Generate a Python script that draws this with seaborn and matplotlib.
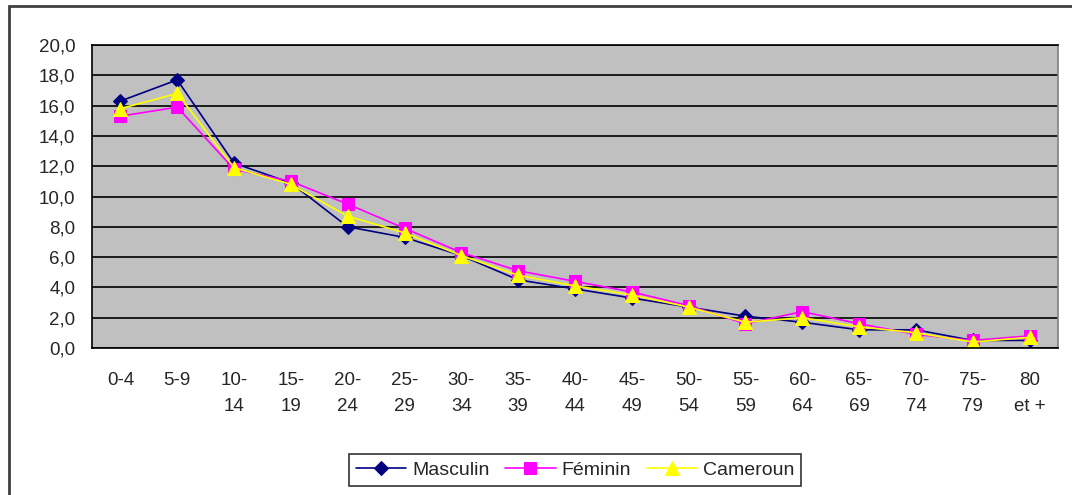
import numpy as np
import pandas as pd
import matplotlib
matplotlib.use('Agg')
import matplotlib.pyplot as plt
import seaborn as sns
from matplotlib.patches import Rectangle
from matplotlib.ticker import FuncFormatter, FixedLocator

# age groups and population shares (%)
ages = ['0-4', '5-9', '10-\n14', '15-\n19', '20-\n24', '25-\n29', '30-\n34', '35-\n39',
        '40-\n44', '45-\n49', '50-\n54', '55-\n59', '60-\n64', '65-\n69', '70-\n74',
        '75-\n79', '80\net +']
masculin = [16.3, 17.7, 12.2, 10.9, 8.0, 7.3, 6.1, 4.5, 3.9, 3.3, 2.7, 2.1, 1.7, 1.2, 1.2, 0.5, 0.5]
feminin = [15.3, 15.9, 11.8, 11.0, 9.5, 7.9, 6.3, 5.1, 4.4, 3.7, 2.8, 1.6, 2.4, 1.6, 0.9, 0.5, 0.8]
cameroun = [15.8, 16.8, 11.9, 10.8, 8.7, 7.6, 6.1, 4.8, 4.1, 3.5, 2.7, 1.7, 2.0, 1.4, 1.0, 0.4, 0.7]

df = pd.DataFrame({'age': ages, 'Masculin': masculin, 'Féminin': feminin, 'Cameroun': cameroun})
long_df = df.melt(id_vars='age', var_name='serie', value_name='pct')

sns.set_style('white')
plt.rcParams['font.family'] = ['Liberation Sans', 'DejaVu Sans']

fig = plt.figure(figsize=(10.72, 4.95), dpi=100)
ax = fig.add_axes([92 / 1072, 147 / 495, 966 / 1072, 303 / 495])
ax.set_facecolor('#c0c0c0')

styles = {
    'Masculin': dict(color='#000080', marker='D', markersize=7),
    'Féminin': dict(color='#ff00ff', marker='s', markersize=8),
    'Cameroun': dict(color='#ffff00', marker='^', markersize=10),
}
for name in ['Masculin', 'Féminin', 'Cameroun']:
    sub = long_df[long_df['serie'] == name]
    st = styles[name]
    sns.lineplot(data=sub, x='age', y='pct', ax=ax, color=st['color'], marker=st['marker'],
                 markersize=st['markersize'], markeredgecolor=st['color'], linewidth=1.2,
                 label=name, sort=False)

ax.set_xlim(-0.5, len(ages) - 0.5)
ax.set_ylim(0, 20)
ax.set_yticks(np.arange(0, 20.1, 2))
ax.yaxis.set_major_formatter(FuncFormatter(lambda v, p: f'{v:.1f}'.replace('.', ',')))
ax.yaxis.grid(True, color='black', linewidth=1.2)
ax.xaxis.grid(False)
ax.set_axisbelow(True)

ax.set_xticks(range(len(ages)))
ax.set_xticklabels(ages, fontsize=13.5, linespacing=1.75)
ax.xaxis.set_minor_locator(FixedLocator(np.arange(-0.5, len(ages), 1)))
ax.tick_params(axis='x', which='major', length=0, pad=17)
ax.tick_params(axis='x', which='minor', length=4, width=1, color='black', direction='out')
ax.tick_params(axis='y', length=4, width=1, color='black', direction='out', labelsize=13.5, pad=8)
for lab in ax.get_xticklabels():
    lab.set_verticalalignment('top')

ax.set_xlabel('')
ax.set_ylabel('')
for side in ['left', 'bottom', 'top']:
    ax.spines[side].set_color('black')
    ax.spines[side].set_linewidth(1.2)
ax.spines['right'].set_color('#808080')
ax.spines['right'].set_linewidth(1.2)

ax.get_legend().remove()
handles, labels = ax.get_legend_handles_labels()
leg = fig.legend(handles, labels, loc='center', bbox_to_anchor=(575 / 1072, 25 / 495), ncol=3,
                 fontsize=14, frameon=True, fancybox=False, edgecolor='black',
                 handlelength=2.6, handletextpad=0.3, columnspacing=0.8, borderpad=0.35,
                 borderaxespad=0)
leg.get_frame().set_linewidth(1.2)

# chart outer border (clipped on right and bottom like the source)
fig.patches.append(Rectangle((9 / 1072, -0.1), 1.2, (495 - 6) / 495 + 0.1, transform=fig.transFigure,
                             fill=False, edgecolor='#404040', linewidth=2))

fig.savefig('out.png', dpi=100)
